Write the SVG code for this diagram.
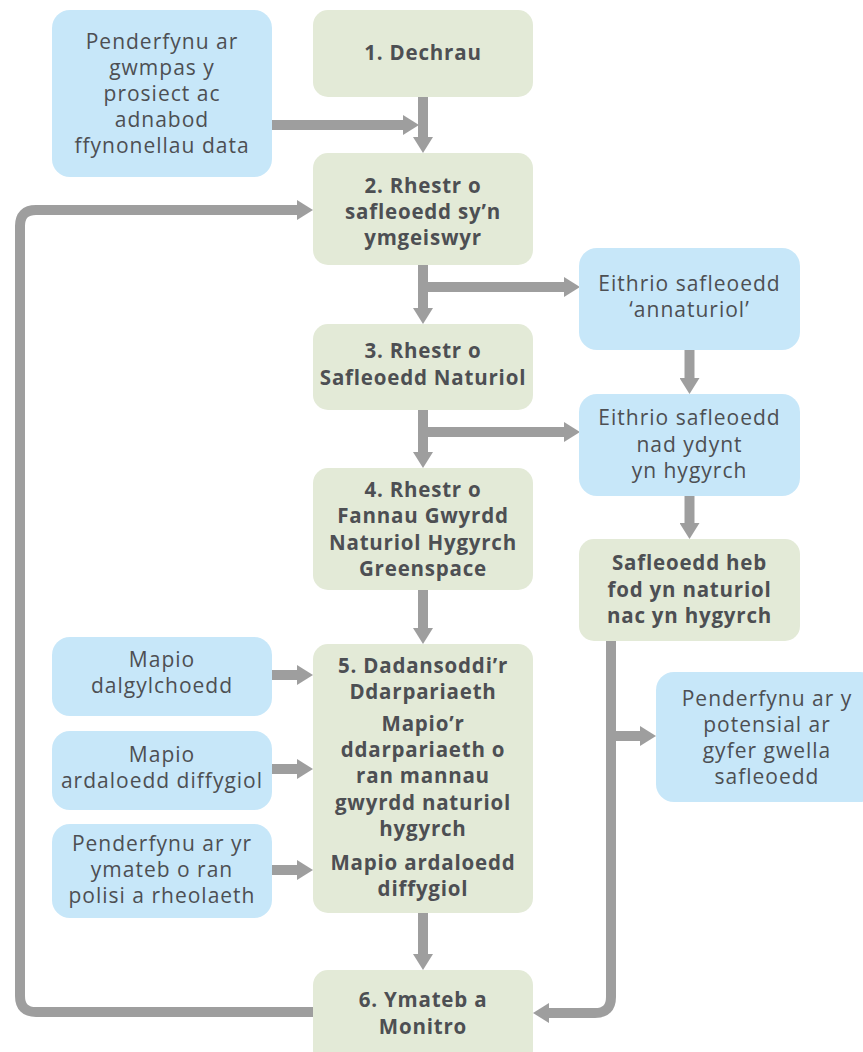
<svg xmlns="http://www.w3.org/2000/svg" width="863" height="1052" viewBox="0 0 863 1052">
<style>
.b{fill:#c7e7f9}
.g{fill:#e3ead7}
text{font-family:"Open Sans","Noto Sans","Liberation Sans",sans-serif;fill:#4d4f53;text-anchor:middle}
.t{font-size:21px;letter-spacing:1px}
.tb{font-size:20.5px;font-weight:bold;letter-spacing:0.8px}
.c{fill:none;stroke:#9e9e9e;stroke-width:10}
.a{marker-end:url(#ah)}
</style>
<defs>
<marker id="ah" markerUnits="userSpaceOnUse" markerWidth="16" markerHeight="20" viewBox="0 0 16 20" refX="2" refY="10" orient="auto">
<path d="M0,0 L16,10 L0,20 Z" fill="#9e9e9e"/>
</marker>
</defs>
<rect width="863" height="1052" fill="#ffffff"/>
<g id="connectors">
<path class="c a" d="M423,97 V139"/>
<path class="c a" d="M272,125 H405"/>
<path class="c a" d="M313,1012 H36 Q20,1012 20,996 V226 Q20,210 36,210 H299"/>
<path class="c a" d="M423,265 V310"/>
<path class="c a" d="M423,287 H566"/>
<path class="c a" d="M689.5,350 V380"/>
<path class="c a" d="M423,410 V454"/>
<path class="c a" d="M423,432 H566"/>
<path class="c a" d="M689.5,496 V525"/>
<path class="c a" d="M423,590 V630"/>
<path class="c a" d="M272,675 H299"/>
<path class="c a" d="M272,769 H299"/>
<path class="c a" d="M272,870 H299"/>
<path class="c a" d="M423,913 V956"/>
<path class="c a" d="M611,641 V997 Q611,1013 595,1013 H547"/>
<path class="c a" d="M611,736 H642"/>
</g>
<g id="n_scope">
<rect class="b" x="52" y="10" width="220" height="167" rx="18"/>
<text class="t" x="162" y="49">Penderfynu ar</text>
<text class="t" x="162" y="75">gwmpas y</text>
<text class="t" x="162" y="101">prosiect ac</text>
<text class="t" x="162" y="127">adnabod</text>
<text class="t" x="162" y="153">ffynonellau data</text>
</g>
<g id="n1">
<rect class="g" x="313" y="10" width="220" height="87" rx="15"/>
<text class="tb" x="423" y="60">1. Dechrau</text>
</g>
<g id="n2">
<rect class="g" x="313" y="153" width="220" height="112" rx="15"/>
<text class="tb" x="423" y="193">2. Rhestr o</text>
<text class="tb" x="423" y="219">safleoedd sy’n</text>
<text class="tb" x="423" y="245">ymgeiswyr</text>
</g>
<g id="n_annaturiol">
<rect class="b" x="579" y="248" width="221" height="102" rx="18"/>
<text class="t" x="689.5" y="291">Eithrio safleoedd</text>
<text class="t" x="689.5" y="317">‘annaturiol’</text>
</g>
<g id="n3">
<rect class="g" x="313" y="324" width="220" height="86" rx="15"/>
<text class="tb" x="423" y="358">3. Rhestr o</text>
<text class="tb" x="423" y="385">Safleoedd Naturiol</text>
</g>
<g id="n_hygyrch">
<rect class="b" x="579" y="394" width="221" height="102" rx="18"/>
<text class="t" x="689.5" y="425">Eithrio safleoedd</text>
<text class="t" x="689.5" y="452">nad ydynt</text>
<text class="t" x="689.5" y="478">yn hygyrch</text>
</g>
<g id="n4">
<rect class="g" x="313" y="468" width="220" height="122" rx="15"/>
<text class="tb" x="423" y="497">4. Rhestr o</text>
<text class="tb" x="423" y="523">Fannau Gwyrdd</text>
<text class="tb" x="423" y="550">Naturiol Hygyrch</text>
<text class="tb" x="423" y="576">Greenspace</text>
</g>
<g id="n_heb">
<rect class="g" x="579" y="539" width="221" height="102" rx="15"/>
<text class="tb" x="689.5" y="570">Safleoedd heb</text>
<text class="tb" x="689.5" y="597">fod yn naturiol</text>
<text class="tb" x="689.5" y="623">nac yn hygyrch</text>
</g>
<g id="n_dalgylch">
<rect class="b" x="52" y="637" width="220" height="79" rx="18"/>
<text class="t" x="162" y="667">Mapio</text>
<text class="t" x="162" y="693">dalgylchoedd</text>
</g>
<g id="n_diffyg">
<rect class="b" x="52" y="731" width="220" height="79" rx="18"/>
<text class="t" x="162" y="762">Mapio</text>
<text class="t" x="162" y="788">ardaloedd diffygiol</text>
</g>
<g id="n_polisi">
<rect class="b" x="52" y="824" width="220" height="94" rx="18"/>
<text class="t" x="162" y="851">Penderfynu ar yr</text>
<text class="t" x="162" y="877">ymateb o ran</text>
<text class="t" x="162" y="903">polisi a rheolaeth</text>
</g>
<g id="n5">
<rect class="g" x="313" y="644" width="220" height="269" rx="15"/>
<text class="tb" x="423" y="673">5. Dadansoddi’r</text>
<text class="tb" x="423" y="699">Ddarpariaeth</text>
<text class="tb" x="423" y="731">Mapio’r</text>
<text class="tb" x="423" y="757">ddarpariaeth o</text>
<text class="tb" x="423" y="783">ran mannau</text>
<text class="tb" x="423" y="810">gwyrdd naturiol</text>
<text class="tb" x="423" y="836">hygyrch</text>
<text class="tb" x="423" y="870">Mapio ardaloedd</text>
<text class="tb" x="423" y="896">diffygiol</text>
</g>
<g id="n_potensial">
<rect class="b" x="656" y="672" width="222" height="130" rx="18"/>
<text class="t" x="767" y="706">Penderfynu ar y</text>
<text class="t" x="767" y="732">potensial ar</text>
<text class="t" x="767" y="758">gyfer gwella</text>
<text class="t" x="767" y="784">safleoedd</text>
</g>
<g id="n6">
<rect class="g" x="313" y="970" width="220" height="95" rx="15"/>
<text class="tb" x="423" y="1007">6. Ymateb a</text>
<text class="tb" x="423" y="1034">Monitro</text>
</g>
</svg>
